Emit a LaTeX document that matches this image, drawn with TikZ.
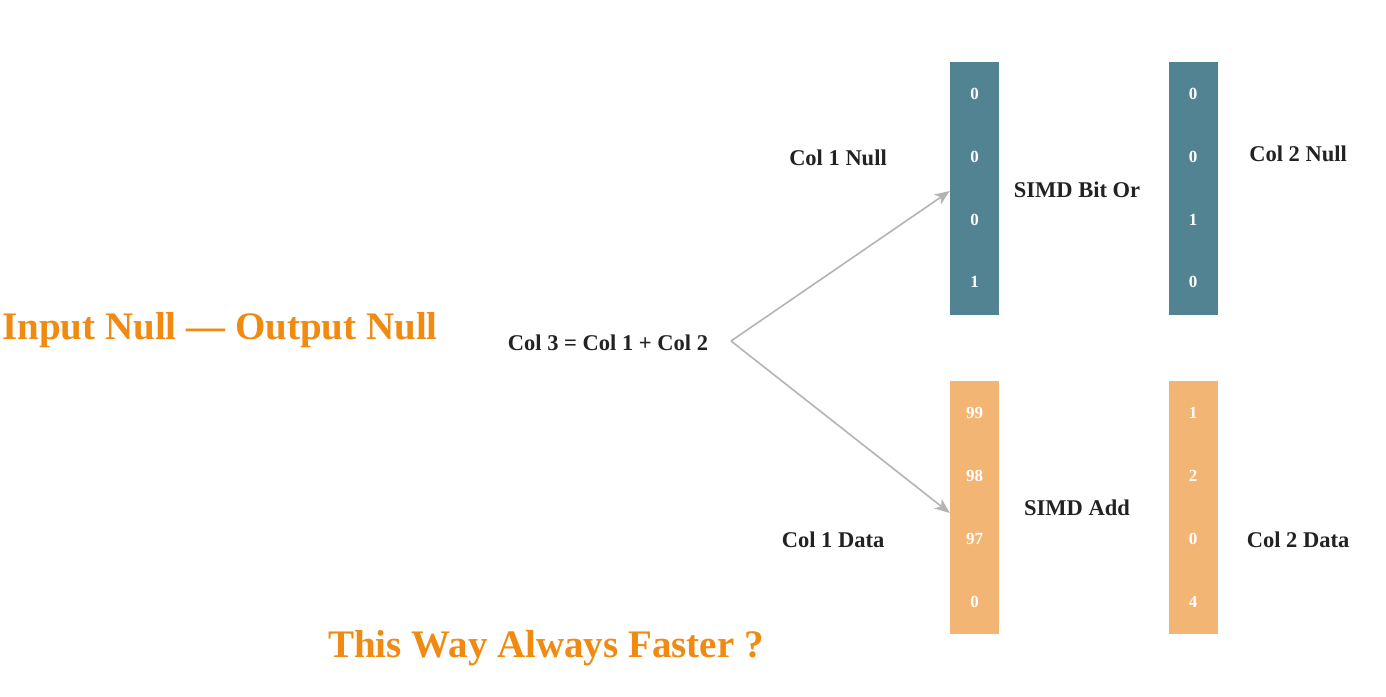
\documentclass[tikz,border=0pt]{standalone}
\usepackage{fontspec}
\setmainfont{Liberation Serif}
\usetikzlibrary{arrows.meta}
\definecolor{nullblue}{HTML}{528393}
\definecolor{dataorange}{HTML}{F2B574}
\definecolor{titleorange}{HTML}{F08A10}
\definecolor{arrowgray}{HTML}{B4B4B4}
\definecolor{labelblack}{HTML}{222222}
\tikzset{
  bar/.style={rectangle, inner sep=0pt, minimum width=49pt, minimum height=253pt},
  nullbar/.style={bar, fill=nullblue},
  databar/.style={bar, fill=dataorange},
  cell/.style={text=white, font=\bfseries\fontsize{17}{20}\selectfont, inner sep=0pt},
  lbl/.style={text=labelblack, font=\bfseries\fontsize{22.5}{26}\selectfont, inner sep=0pt},
  title/.style={text=titleorange, font=\bfseries\fontsize{39}{44}\selectfont, inner sep=0pt},
  conn/.style={draw=arrowgray, line width=1.6pt, -{Stealth[length=15pt, width=12pt, inset=4pt]}}
}
\begin{document}
\begin{tikzpicture}[x=1pt, y=-1pt]
\useasboundingbox[fill=white] (0,0) rectangle (1386,696);
% bars
\node[nullbar] (n1) at (974.5,188.5) {};
\node[nullbar] (n2) at (1193,188.5) {};
\node[databar] (d1) at (974.5,507.5) {};
\node[databar] (d2) at (1193,507.5) {};
% cells
\node[cell] (n1a) at (974.5,94) {0};
\node[cell] (n1b) at (974.5,157) {0};
\node[cell] (n1c) at (974.5,220) {0};
\node[cell] (n1d) at (974.5,282) {1};
\node[cell] (n2a) at (1193,94) {0};
\node[cell] (n2b) at (1193,157) {0};
\node[cell] (n2c) at (1193,220) {1};
\node[cell] (n2d) at (1193,282) {0};
\node[cell] (d1a) at (974.5,413) {99};
\node[cell] (d1b) at (974.5,476) {98};
\node[cell] (d1c) at (974.5,539) {97};
\node[cell] (d1d) at (974.5,602) {0};
\node[cell] (d2a) at (1193,413) {1};
\node[cell] (d2b) at (1193,476) {2};
\node[cell] (d2c) at (1193,539) {0};
\node[cell] (d2d) at (1193,602) {4};
% labels
\node[lbl] (l1) at (838,158) {Col 1 Null};
\node[lbl] (l2) at (1077,190) {SIMD Bit Or};
\node[lbl] (l3) at (1298,154) {Col 2 Null};
\node[lbl] (l4) at (833,540) {Col 1 Data};
\node[lbl] (l5) at (1077,508) {SIMD Add};
\node[lbl] (l6) at (1298,540) {Col 2 Data};
\node[lbl, anchor=base] (eq) at (608,350) {Col 3 = Col 1 + Col 2};
% titles
\node[title, anchor=base west] (t1) at (2,339) {Input Null — Output Null};
\node[title, anchor=base] (t2) at (546,657) {This Way Always Faster ?};
% connectors
\coordinate (src) at (731,341);
\coordinate (e1) at (n1.west |- 0,191);
\coordinate (e2) at (d1.west |- 0,513);
\draw[conn] (src) -- (e1);
\draw[conn] (src) -- (e2);
\end{tikzpicture}
\end{document}
